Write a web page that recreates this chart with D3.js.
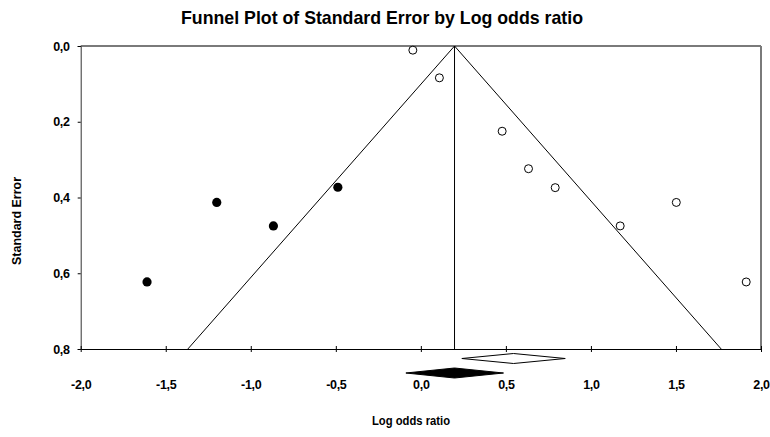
<!DOCTYPE html>
<html>
<head>
<meta charset="utf-8">
<script src="https://cdn.jsdelivr.net/npm/d3@7"></script>
<style>
  body { margin: 0; background: #fff; }
  text { font-family: "Liberation Sans", Arial, sans-serif; font-weight: bold; fill: #000; }
</style>
</head>
<body>
<div id="chart"></div>
<script>
// Observed studies (open circles)
const observedLogOR = [-0.047, 0.109, 0.478, 0.633, 0.790, 1.172, 1.502, 1.913];
const observedSE = [0.011, 0.084, 0.225, 0.324, 0.374, 0.475, 0.413, 0.623];

// Imputed studies (filled circles)
const imputedLogOR = [-0.488, -0.867, -1.200, -1.610];
const imputedSE = [0.373, 0.475, 0.413, 0.623];

// Summary diamonds: [lower, point, upper]
const observedSummary = [0.241, 0.545, 0.849];
const imputedSummary = [-0.088, 0.198, 0.486];

// Funnel centre and limits
const funnelCenter = 0.198;
const funnelZ = 1.96;

const xTicks = [-2.0, -1.5, -1.0, -0.5, 0.0, 0.5, 1.0, 1.5, 2.0];
const yTicks = [0.0, 0.2, 0.4, 0.6, 0.8];

const W = 770, H = 437;
const margin = { top: 46, right: 9, bottom: 88, left: 80.7 };
const width = W - margin.left - margin.right;
const height = H - margin.top - margin.bottom;

const svg = d3.select('#chart')
    .append('svg')
    .attr('width', W)
    .attr('height', H);

const g = svg.append('g')
    .attr('transform', `translate(${margin.left},${margin.top})`);

const xScale = d3.scaleLinear().domain([-2, 2]).range([0, width]);
const yScale = d3.scaleLinear().domain([0, 0.8]).range([0, height]);

const fmt = d => d.toFixed(1).replace('.', ',');

// Frame: top and right in grey
g.append('line')
    .attr('x1', 0).attr('x2', width).attr('y1', 0).attr('y2', 0)
    .attr('stroke', '#7a7a7a').attr('stroke-width', 2);
g.append('line')
    .attr('x1', width).attr('x2', width).attr('y1', 0).attr('y2', height)
    .attr('stroke', '#7a7a7a').attr('stroke-width', 2);

// Y axis
const yAxis = g.append('g')
    .call(d3.axisLeft(yScale).tickValues(yTicks).tickFormat(fmt).tickSize(3).tickPadding(8));
yAxis.select('.domain').attr('stroke', '#333');
yAxis.selectAll('text').style('font-size', '12.5px').style('letter-spacing', '-0.3px');

// X axis
const xAxis = g.append('g')
    .attr('transform', `translate(0,${height})`)
    .call(d3.axisBottom(xScale).tickValues(xTicks).tickFormat(fmt).tickSizeInner(3).tickSizeOuter(0).tickPadding(28));
xAxis.select('.domain').attr('stroke', '#000');
xAxis.selectAll('.tick line').attr('y1', -3).attr('y2', 3);
xAxis.selectAll('text').style('font-size', '12.5px').style('letter-spacing', '-0.3px');

// Funnel
const funnel = [
    [funnelCenter - funnelZ * 0.8, 0.8],
    [funnelCenter, 0],
    [funnelCenter + funnelZ * 0.8, 0.8]
];
g.append('path')
    .attr('d', d3.line().x(d => xScale(d[0])).y(d => yScale(d[1]))(funnel))
    .attr('fill', 'none')
    .attr('stroke', '#000')
    .attr('stroke-width', 1);
g.append('line')
    .attr('x1', xScale(funnelCenter)).attr('x2', xScale(funnelCenter))
    .attr('y1', yScale(0)).attr('y2', yScale(0.8))
    .attr('stroke', '#000').attr('stroke-width', 1);

// Observed studies
g.selectAll('.obs')
    .data(observedLogOR.map((v, i) => ({ x: v, se: observedSE[i] })))
    .enter().append('circle')
    .attr('class', 'obs')
    .attr('cx', d => xScale(d.x))
    .attr('cy', d => yScale(d.se))
    .attr('r', 4)
    .attr('fill', '#fff')
    .attr('stroke', '#000')
    .attr('stroke-width', 1);

// Imputed studies
g.selectAll('.imp')
    .data(imputedLogOR.map((v, i) => ({ x: v, se: imputedSE[i] })))
    .enter().append('circle')
    .attr('class', 'imp')
    .attr('cx', d => xScale(d.x))
    .attr('cy', d => yScale(d.se))
    .attr('r', 4.6)
    .attr('fill', '#000');

// Summary diamonds below the axis
function diamond(vals, cy, fill) {
    const pts = [
        [xScale(vals[0]), cy],
        [xScale(vals[1]), cy - 5],
        [xScale(vals[2]), cy],
        [xScale(vals[1]), cy + 5]
    ];
    g.append('polygon')
        .attr('points', pts.map(p => p.join(',')).join(' '))
        .attr('fill', fill)
        .attr('stroke', '#000')
        .attr('stroke-width', 1);
}
diamond(observedSummary, height + 9.5, '#fff');
diamond(imputedSummary, height + 24, '#000');

// Axis titles
svg.append('text')
    .attr('x', 411)
    .attr('y', 425)
    .attr('text-anchor', 'middle')
    .attr('textLength', 78)
    .attr('lengthAdjust', 'spacingAndGlyphs')
    .style('font-size', '12.5px')
    .text('Log odds ratio');

svg.append('text')
    .attr('transform', 'translate(21,221) rotate(-90)')
    .attr('text-anchor', 'middle')
    .attr('textLength', 88)
    .attr('lengthAdjust', 'spacingAndGlyphs')
    .style('font-size', '12.5px')
    .text('Standard Error');

// Title
svg.append('text')
    .attr('x', 382)
    .attr('y', 24)
    .attr('text-anchor', 'middle')
    .attr('textLength', 402)
    .attr('lengthAdjust', 'spacingAndGlyphs')
    .style('font-size', '18.5px')
    .text('Funnel Plot of Standard Error by Log odds ratio');
</script>
</body>
</html>
